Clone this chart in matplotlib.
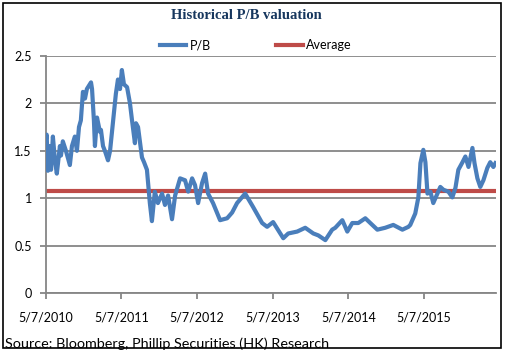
import matplotlib
matplotlib.use("Agg")
import matplotlib.pyplot as plt
import matplotlib.dates as mdates
from matplotlib.patches import Rectangle
import pandas as pd

# P/B history
pb_dates = [
    "2010-05-07", "2010-05-12", "2010-05-18", "2010-05-28", "2010-06-02", "2010-06-11",
    "2010-06-21", "2010-06-30", "2010-07-15", "2010-07-20", "2010-07-29", "2010-08-13",
    "2010-09-01", "2010-09-11", "2010-09-25", "2010-10-05", "2010-10-15", "2010-10-24",
    "2010-11-03", "2010-11-13", "2010-11-22", "2010-12-12", "2010-12-17", "2010-12-26",
    "2010-12-31", "2011-01-10", "2011-01-24", "2011-01-29", "2011-02-08", "2011-02-17",
    "2011-03-04", "2011-03-14", "2011-03-28", "2011-04-11", "2011-04-21", "2011-05-01",
    "2011-05-10", "2011-05-20", "2011-06-04", "2011-06-18", "2011-06-28", "2011-07-12",
    "2011-07-17", "2011-07-27", "2011-08-15", "2011-08-25", "2011-09-08", "2011-09-22",
    "2011-10-02", "2011-10-16", "2011-10-31", "2011-11-20", "2011-12-04", "2011-12-19",
    "2012-01-07", "2012-01-22", "2012-02-15", "2012-03-10", "2012-03-25", "2012-04-13",
    "2012-04-27", "2012-05-12", "2012-05-31", "2012-06-15", "2012-06-29", "2012-07-23",
    "2012-08-26", "2012-09-29", "2012-10-23", "2012-11-16", "2012-12-25", "2013-02-01",
    "2013-03-17", "2013-04-10", "2013-05-09", "2013-06-27", "2013-07-21", "2013-09-02",
    "2013-10-11", "2013-11-19", "2013-12-13", "2014-01-16", "2014-02-18", "2014-03-05",
    "2014-04-08", "2014-05-02", "2014-05-26", "2014-06-24", "2014-07-28", "2014-08-21",
    "2014-09-24", "2014-11-01", "2014-12-10", "2015-01-23", "2015-02-21", "2015-03-02",
    "2015-03-26", "2015-04-10", "2015-04-20", "2015-05-04", "2015-05-14", "2015-05-24",
    "2015-06-07", "2015-06-21", "2015-07-11", "2015-07-25", "2015-08-09", "2015-09-02",
    "2015-09-21", "2015-10-06", "2015-10-20", "2015-11-09", "2015-11-23", "2015-12-08",
    "2015-12-27", "2016-01-06", "2016-01-20", "2016-02-03", "2016-02-18", "2016-03-08",
    "2016-03-22", "2016-04-06", "2016-04-16",
]
pb_values = [
    1.60, 1.67, 1.29, 1.55, 1.30, 1.65,
    1.40, 1.26, 1.55, 1.45, 1.60, 1.50,
    1.35, 1.55, 1.65, 1.50, 1.75, 1.82,
    2.12, 2.05, 2.15, 2.22, 2.15, 1.82,
    1.55, 1.85, 1.70, 1.72, 1.55, 1.50,
    1.40, 1.50, 1.80, 2.10, 2.25, 2.15,
    2.35, 2.20, 2.17, 2.00, 1.82, 1.58,
    1.79, 1.75, 1.43, 1.38, 1.30, 0.95,
    0.76, 1.07, 0.95, 1.05, 0.93, 1.03,
    0.78, 1.03, 1.21, 1.19, 1.07, 1.21,
    1.14, 0.95, 1.16, 1.26, 1.05, 0.95,
    0.77, 0.79, 0.85, 0.95, 1.05, 0.91,
    0.74, 0.70, 0.75, 0.58, 0.63, 0.65,
    0.69, 0.63, 0.61, 0.56, 0.67, 0.69,
    0.77, 0.65, 0.74, 0.74, 0.79, 0.74,
    0.67, 0.69, 0.72, 0.67, 0.70, 0.72,
    0.84, 1.01, 1.37, 1.51, 1.38, 1.05,
    1.07, 0.95, 1.05, 1.12, 1.09, 1.07,
    1.01, 1.11, 1.30, 1.38, 1.44, 1.33,
    1.53, 1.37, 1.21, 1.12, 1.19, 1.32,
    1.38, 1.33, 1.37,
]
average_pb = 1.08

x_start = "2010-05-07"
x_end = "2016-04-18"
tick_dates = ["2010-05-07", "2011-05-07", "2012-05-07", "2013-05-07", "2014-05-07", "2015-05-07"]
y_ticks = [0, 0.5, 1, 1.5, 2, 2.5]

BLUE = "#4A7EBB"
RED = "#BE4B48"
GRID = "#868686"
FONT = "Lato"

dates = pd.to_datetime(pb_dates)

fig = plt.figure(figsize=(5.07, 3.53), dpi=100)
ax = fig.add_axes([0.090, 0.169, 0.888, 0.673])

ax.plot(dates, pb_values, color=BLUE, linewidth=3.0, label="P/B", zorder=3,
        solid_joinstyle="round")
ax.axhline(average_pb, color=RED, linewidth=3.0, label="Average", zorder=2)

ax.set_xlim(pd.Timestamp(x_start), pd.Timestamp(x_end))
ax.set_ylim(0, 2.5)
ax.set_yticks(y_ticks)
ax.set_yticklabels([f"{v:g}" for v in y_ticks])
ax.set_xticks(pd.to_datetime(tick_dates))
ax.xaxis.set_major_formatter(
    plt.FuncFormatter(lambda x, p: "{d.month}/{d.day}/{d.year}".format(d=mdates.num2date(x)))
)

ax.grid(axis="y", color=GRID, linewidth=1.3)
ax.set_axisbelow(True)
for side in ["top", "right"]:
    ax.spines[side].set_visible(False)
for side in ["left", "bottom"]:
    ax.spines[side].set_color(GRID)
    ax.spines[side].set_linewidth(1.3)
ax.tick_params(axis="both", colors=GRID, width=1.3, length=4, labelcolor="black",
               labelsize=9)
ax.tick_params(axis="x", pad=9)
ax.tick_params(axis="y", pad=6)
for lbl in ax.get_xticklabels() + ax.get_yticklabels():
    lbl.set_fontfamily(FONT)

fig.text(0.485, 0.955, "Historical P/B valuation", ha="center", va="center",
         fontsize=10.5, fontweight="bold", family="Liberation Serif", color="#17375E")

fig.legend(loc="center", bbox_to_anchor=(0.505, 0.872), ncol=2, frameon=False,
           handlelength=2.1, columnspacing=5.2, handletextpad=0.3,
           prop={"family": FONT, "size": 9})

fig.text(0.01, 0.026, "Source: Bloomberg, Phillip Securities (HK) Research",
         ha="left", va="center", fontsize=10.4, family=FONT)

fig.patches.append(Rectangle((0.006, 0.014), 0.982, 0.978, transform=fig.transFigure,
                             fill=False, edgecolor="black", linewidth=1.2))

fig.savefig("out.png", dpi=100)
